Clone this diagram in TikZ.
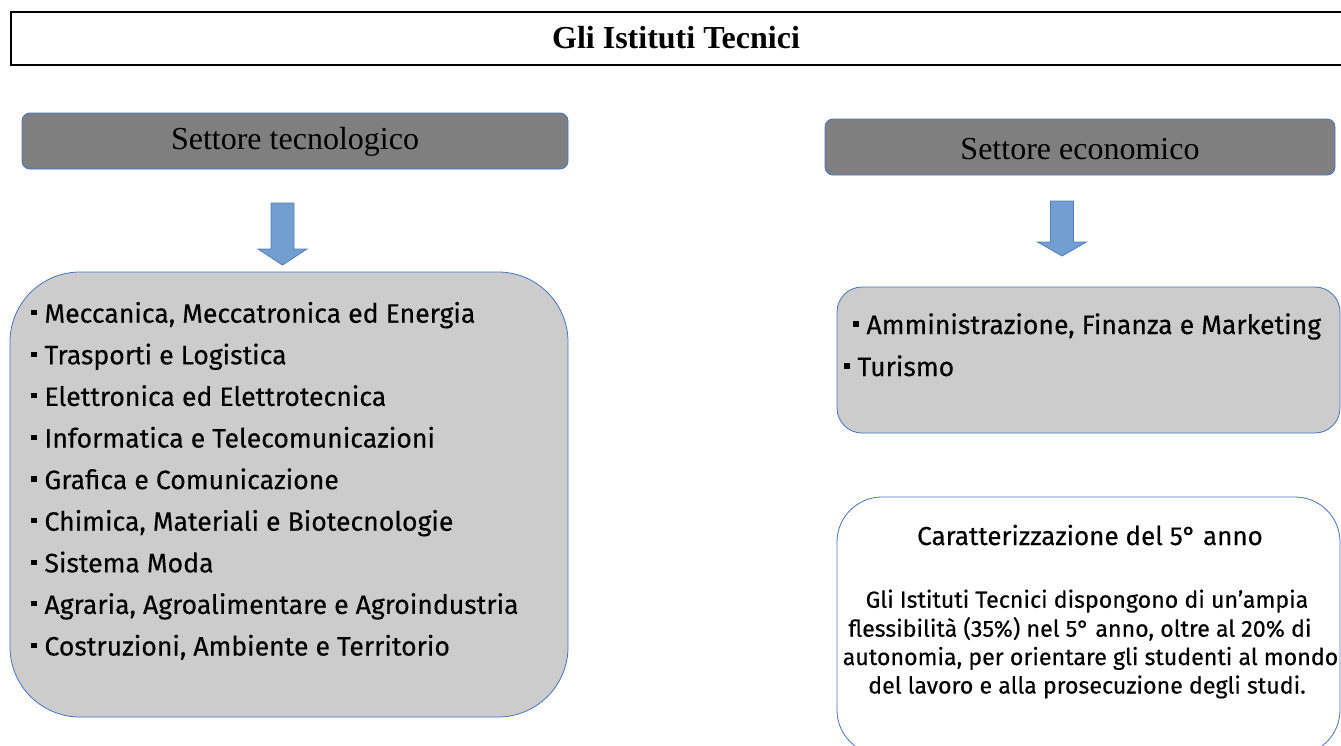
\documentclass[tikz,border=0pt]{standalone}
\usepackage{fontspec}
\usetikzlibrary{calc}
\setmainfont{Liberation Serif}
\newfontfamily\din[FakeBold=0.35]{Fira Sans}
\definecolor{hdrgray}{RGB}{127,127,127}
\definecolor{boxgray}{RGB}{204,204,204}
\definecolor{bordblue}{RGB}{68,114,196}
\definecolor{arrowfill}{RGB}{114,159,207}
\definecolor{arrowdraw}{RGB}{80,125,185}
\begin{document}
\begin{tikzpicture}[x=1pt,y=-1pt,
  hdrbox/.style={draw=bordblue, line width=0.8pt, fill=hdrgray, rounded corners=8pt, inner sep=0pt},
  listbox/.style={draw=bordblue, line width=0.8pt, fill=boxgray, inner sep=0pt},
  hdrtext/.style={font=\fontsize{32}{32}\selectfont, inner sep=0pt},
  item/.style={font=\din\fontsize{26.6}{26.6}\selectfont, anchor=base west, inner sep=0pt},
  para/.style={font=\din\fontsize{23.2}{23.2}\selectfont, anchor=base, inner sep=0pt},
  blockarrow/.style={fill=arrowfill, draw=arrowdraw, line width=0.8pt}
]
\useasboundingbox (0,0) rectangle (1341,745);
\newcommand{\bul}{\rule[0.28em]{0.2em}{0.2em}\hspace{0.3em}}
% title
\node[draw=black, line width=1.5pt, minimum width=1370pt, minimum height=53pt, anchor=north west, inner sep=0pt] (title) at (10,11) {};
\node[font=\bfseries\fontsize{32}{32}\selectfont, inner sep=0pt] (titletext) at (676,38) {Gli Istituti Tecnici};
% technological sector
\node[hdrbox, minimum width=546pt, minimum height=56pt] (techhdr) at (295,141) {};
\node[hdrtext] (techhdrtext) at (295,142) {Settore tecnologico};
\node[listbox, rounded corners=70pt, minimum width=558pt, minimum height=445pt] (techlist) at (289,494.5) {};
\coordinate (ta) at (282.5,203);
\draw[blockarrow] ($(ta)+(-11.5,0)$) -- ($(ta)+(11.5,0)$) -- ($(ta)+(11.5,46)$) -- ($(ta)+(24.5,46)$) -- ($(ta)+(0,62)$) -- ($(ta)+(-24.5,46)$) -- ($(ta)+(-11.5,46)$) -- cycle;
\node[item] (t1) at (31,322.7) {\bul Meccanica, Meccatronica ed Energia};
\node[item] (t2) at (31,364.3) {\bul Trasporti e Logistica};
\node[item] (t3) at (31,405.9) {\bul Elettronica ed Elettrotecnica};
\node[item] (t4) at (31,447.5) {\bul Informatica e Telecomunicazioni};
\node[item] (t5) at (31,489.1) {\bul Grafica e Comunicazione};
\node[item] (t6) at (31,530.7) {\bul Chimica, Materiali e Biotecnologie};
\node[item] (t7) at (31,572.3) {\bul Sistema Moda};
\node[item] (t8) at (31,613.9) {\bul Agraria, Agroalimentare e Agroindustria};
\node[item] (t9) at (31,655.5) {\bul Costruzioni, Ambiente e Territorio};
% economic sector
\node[hdrbox, minimum width=510pt, minimum height=56pt] (ecohdr) at (1080,147) {};
\node[hdrtext] (ecohdrtext) at (1080,149) {Settore economico};
\coordinate (ea) at (1062,201);
\draw[blockarrow] ($(ea)+(-11.5,0)$) -- ($(ea)+(11.5,0)$) -- ($(ea)+(11.5,41)$) -- ($(ea)+(24.5,41)$) -- ($(ea)+(0,55)$) -- ($(ea)+(-24.5,41)$) -- ($(ea)+(-11.5,41)$) -- cycle;
\node[listbox, rounded corners=25pt, minimum width=503pt, minimum height=146pt] (ecolist) at (1088.5,360) {};
\node[item] (e1) at (853,334) {\bul Amministrazione, Finanza e Marketing};
\node[item] (e2) at (844,376) {\bul Turismo};
% fifth year
\node[draw=bordblue, line width=0.8pt, fill=white, rounded corners=45pt, minimum width=503pt, minimum height=258pt, inner sep=0pt] (fifth) at (1088.5,626) {};
\node[para, font=\din\fontsize{26}{26}\selectfont] (fifthtitle) at (1090,545) {Caratterizzazione del 5° anno};
\node[para] (p1) at (1087,607.7) {Gli Istituti Tecnici dispongono di un’ampia};
\node[para] (p2) at (1080,636.7) {flessibilità (35\%) nel 5° anno, oltre al 20\% di};
\node[para] (p3) at (1090.5,665) {autonomia, per orientare gli studenti al mondo};
\node[para] (p4) at (1087,693.5) {del lavoro e alla prosecuzione degli studi.};
\end{tikzpicture}
\end{document}
